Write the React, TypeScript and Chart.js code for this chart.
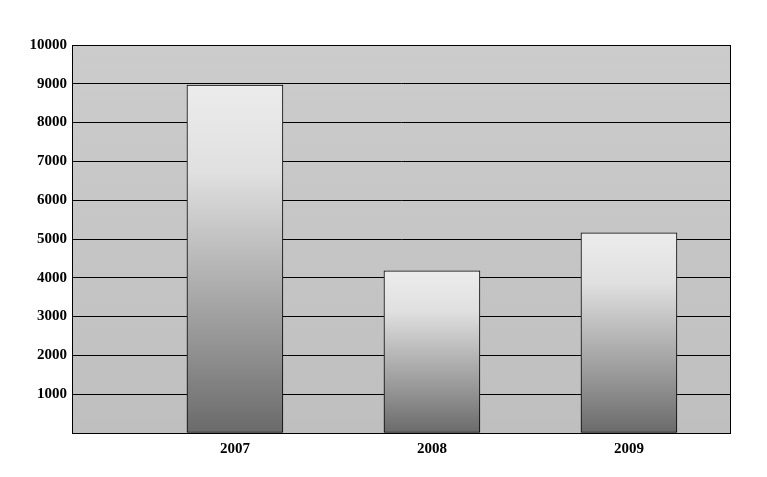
import React, { useEffect, useRef } from "react";
import { Chart, registerables } from "chart.js";

Chart.register(...registerables);

const years = [2007, 2008, 2009];
const values = [8970, 4180, 5160];
const yTicks = [1000, 2000, 3000, 4000, 5000, 6000, 7000, 8000, 9000, 10000];

const FONT = { family: "'Liberation Serif', 'Times New Roman', serif", size: 15, weight: "bold" as const };

const plotBg = {
  id: "plotBg",
  beforeDraw(chart: any) {
    const { ctx, chartArea: a } = chart;
    const g = ctx.createLinearGradient(0, a.top, 0, a.bottom);
    g.addColorStop(0, "#cccccc");
    g.addColorStop(1, "#bfbfbf");
    ctx.save();
    ctx.fillStyle = g;
    ctx.fillRect(a.left, a.top, a.right - a.left, a.bottom - a.top);
    ctx.restore();
  },
  afterDraw(chart: any) {
    const { ctx, chartArea: a } = chart;
    ctx.save();
    ctx.strokeStyle = "#000";
    ctx.lineWidth = 1;
    ctx.strokeRect(Math.round(a.left) + 0.5, Math.round(a.top) + 0.5, Math.round(a.right - a.left) - 1, Math.round(a.bottom - a.top));
    ctx.restore();
  },
};

export default function App() {
  const ref = useRef<HTMLCanvasElement>(null);
  useEffect(() => {
    const chart = new Chart(ref.current!, {
      type: "bar",
      data: {
        datasets: [
          {
            data: years.map((y, i) => ({ x: y, y: values[i] })),
            backgroundColor: (c: any) => {
              const ch = c.chart;
              const ys = ch.scales?.y;
              if (!ys || !c.raw) return "#bbbbbb";
              const top = ys.getPixelForValue(c.raw.y);
              const bot = ys.getPixelForValue(0);
              if (!isFinite(top) || !isFinite(bot)) return "#bbbbbb";
              const g = ch.ctx.createLinearGradient(0, top, 0, bot);
              g.addColorStop(0, "#ececec");
              g.addColorStop(0.25, "#e0e0e0");
              g.addColorStop(0.5, "#b9b9b9");
              g.addColorStop(0.75, "#939393");
              g.addColorStop(1, "#6a6a6a");
              return g;
            },
            borderColor: "#000",
            borderWidth: 1,
            borderSkipped: false,
            barThickness: 96,
          },
        ],
      },
      options: {
        animation: false,
        responsive: false,
        maintainAspectRatio: false,
        layout: { padding: { top: 45, right: 36, bottom: 0, left: 0 } },
        plugins: { legend: { display: false }, tooltip: { enabled: false } },
        scales: {
          x: {
            type: "linear",
            offset: false,
            min: 2006.173,
            max: 2009.518,
            afterBuildTicks: (s: any) => {
              s.ticks = years.map((v) => ({ value: v }));
            },
            afterFit: (s: any) => {
              s.height = 44;
            },
            grid: { display: false, drawTicks: false, offset: false },
            border: { display: false },
            ticks: { color: "#000", font: FONT, padding: 7, callback: (v: any) => String(v) },
          },
          y: {
            min: 0,
            max: 10000,
            afterBuildTicks: (s: any) => {
              s.ticks = [0, ...yTicks].map((v) => ({ value: v }));
            },
            afterFit: (s: any) => {
              s.width = 72;
            },
            grid: { color: "#000", lineWidth: 1, drawTicks: false },
            border: { display: false },
            ticks: {
              color: "#000",
              font: FONT,
              padding: 5,
              callback: (v: any) => (v === 0 ? "" : String(v)),
            },
          },
        },
      },
      plugins: [plotBg],
    });
    return () => chart.destroy();
  }, []);
  return (
    <div style={{ position: "fixed", left: 0, top: 0, width: 767, height: 477, background: "#fff" }}>
      <canvas ref={ref} width={767} height={477} style={{ width: 767, height: 477 }} />
    </div>
  );
}
